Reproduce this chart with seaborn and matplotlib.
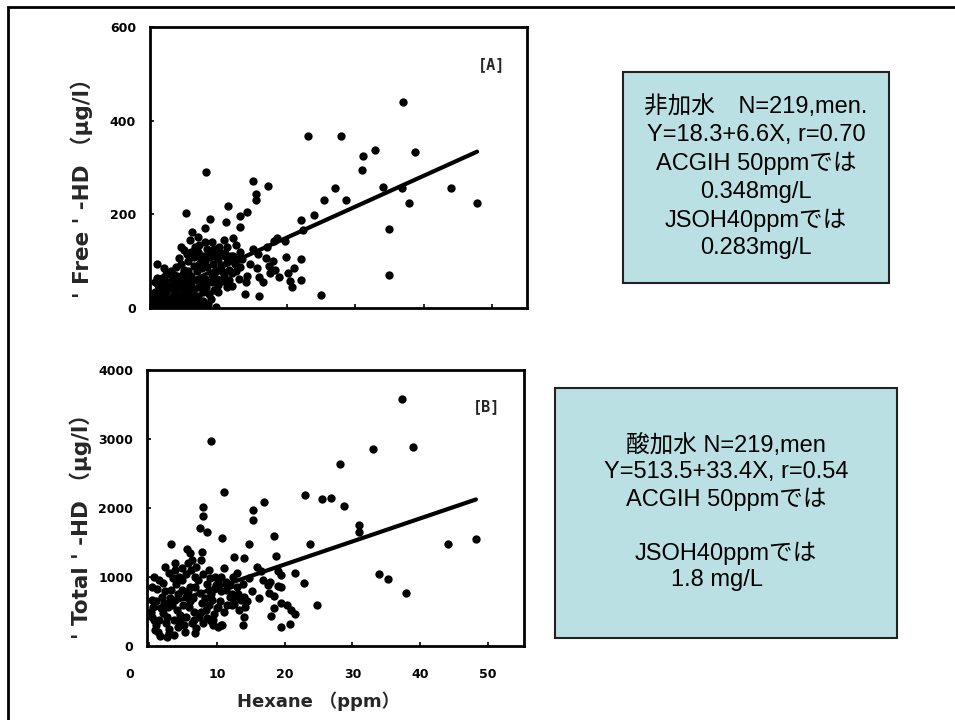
import numpy as np
import pandas as pd
import matplotlib
matplotlib.use("Agg")
import matplotlib.pyplot as plt
import matplotlib.transforms as mtransforms
from matplotlib.patches import Rectangle
import seaborn as sns

# ---------------- data ----------------
free_hexane = [
    37.0, 23.1, 27.9, 31.2, 32.9, 38.8, 31.0, 8.2, 15.1, 17.3, 15.5, 15.5, 27.1, 34.1, 36.8, 44.0,
    25.4, 28.7, 37.9, 47.8, 5.2, 14.2, 11.4, 13.1, 8.8, 22.1, 23.9, 11.1, 35.0, 13.1, 22.4, 6.2,
    7.0, 8.1, 12.2, 35.0, 25.0, 16.0, 13.9, 18.5, 18.1, 19.8, 19.9, 22.0, 18.0, 21.0, 22.0, 20.2,
    20.4, 20.8, 17.4, 17.6, 15.6, 16.0, 14.2, 15.1, 17.1, 13.1, 12.2, 13.2, 10.1, 11.3, 11.8, 13.0,
    12.0, 11.3, 16.9, 14.6, 18.3, 18.8, 5.9, 8.1, 5.4, 4.2, 1.05, 1.05, 1.1, 4.9,
    0.5, 1.0, 1.5, 2.0, 2.5, 3.0, 3.5, 4.2, 4.8, 5.3, 5.9, 6.4, 7.0, 7.5, 8.0, 8.5, 9.6,
    0.6, 1.0, 1.3, 1.8, 2.0, 2.4, 2.8, 3.0, 3.3, 3.7, 4.0, 4.3, 4.6, 5.0, 5.4, 5.8, 6.1, 6.5,
    7.0, 7.3, 7.8, 8.2, 8.6, 9.0, 9.4, 10.0,
    0.8, 1.5, 2.2, 2.6, 3.2, 3.6, 4.0, 4.4, 4.8, 5.2, 5.6, 6.0, 6.4, 6.8, 7.2, 7.6, 8.0, 8.4,
    8.8, 9.2, 9.6, 10.0, 10.4, 10.8, 11.2, 11.6, 12.0, 9.0, 8.0, 7.0, 6.0, 5.0, 9.8, 10.6, 12.4,
    12.8, 10.2, 9.4, 8.6, 7.8, 7.0, 6.4, 5.6, 4.6, 3.8, 3.0, 2.4, 1.8, 7.2, 6.6, 9.0, 11.0,
    0.3, 0.8, 1.2, 1.6, 2.2, 2.7, 3.1, 3.4, 3.9, 4.5, 4.9, 5.5, 5.8, 6.3, 6.7, 7.1, 7.7, 8.3,
    8.9, 9.3, 9.9, 10.5, 10.9, 11.5, 12.5, 13.5, 14.0, 9.5, 8.3, 7.4, 6.0, 5.0, 3.5, 2.0, 4.5,
    10.8, 12.6, 15.8, 16.5,
]
free_hd = [
    440, 367, 367, 325, 338, 333, 295, 291, 272, 260, 243, 230, 256, 259, 256, 256,
    231, 231, 224, 224, 203, 205, 218, 196, 191, 188, 199, 184, 169, 174, 167, 162,
    152, 171, 150, 70, 28, 25, 30, 150, 142, 142, 109, 105, 100, 85, 60, 75,
    58, 45, 90, 75, 85, 66, 69, 127, 130, 88, 110, 120, 131, 131, 112, 62,
    48, 45, 107, 95, 81, 67, 145, 140, 115, 106, 95, 64, 50, 124,
    8, 5, 10, 6, 12, 4, 9, 6, 5, 8, 5, 7, 4, 6, 3, 8, 2,
    22, 30, 40, 18, 28, 35, 20, 42, 25, 33, 18, 45, 28, 38, 22, 48, 30, 40,
    25, 52, 35, 44, 30, 55, 38, 50,
    55, 52, 58, 48, 62, 55, 68, 58, 72, 62, 80, 68, 90, 78, 95, 85, 100, 88,
    108, 95, 80, 105, 92, 70, 98, 82, 75, 70, 62, 60, 52, 50, 62, 58, 95,
    105, 120, 125, 118, 112, 120, 108, 100, 95, 88, 80, 72, 65, 135, 130, 140, 118,
    15, 35, 20, 45, 15, 40, 12, 50, 30, 15, 55, 35, 15, 60, 20, 45, 15, 55,
    20, 65, 35, 80, 110, 60, 80, 105, 55, 110, 125, 105, 120, 82, 70, 85, 130,
    145, 135, 115, 55,
]

total_hexane = [
    37.3, 9.2, 38.9, 33.1, 28.1, 11.1, 23.0, 25.5, 26.9, 28.8, 17.0, 15.4, 15.4, 7.9, 7.9, 7.5,
    8.6, 10.8, 18.5, 14.8, 23.8, 31.0, 31.0, 3.2, 5.6, 6.0, 7.8, 44.1, 48.2, 33.9, 35.2, 37.9,
    24.7, 18.7, 12.6, 14.0, 22.8, 21.5, 19.0, 19.5, 19.4, 20.8, 21.5, 20.3, 20.9, 19.5, 18.5, 18.0,
    19.0, 19.5, 17.7, 18.4, 17.5, 17.9, 13.9, 10.6, 9.5, 12.6, 13.3, 12.2, 12.6, 14.0, 11.3, 10.6,
    10.1, 9.6, 9.1,
    0.7, 1.4, 2.1, 2.9, 3.6, 7.6, 3.8, 4.8, 5.5, 6.2, 6.8, 8.8, 9.0, 11.0, 0.4, 0.6, 0.5, 0.9,
    1.9, 2.2, 2.0, 2.5, 2.9, 3.3, 3.8, 4.1, 3.7, 4.3, 4.8, 5.5, 5.9, 5.4, 6.3, 6.8, 7.5, 7.8,
    7.3, 8.0, 6.8, 8.8, 9.3, 10.0, 9.4, 10.2, 10.8, 10.2, 11.3, 12.0, 12.3, 11.1, 12.9, 13.5,
    14.2, 14.0, 1.6, 2.6, 3.7, 1.2, 1.5, 2.8, 3.1, 4.5, 5.0, 5.2, 6.0, 6.5, 6.6, 7.0, 8.4, 8.6,
    9.6, 10.4, 1.0, 0.5, 4.0, 5.8, 6.9, 9.8, 4.4, 2.4, 15.9, 16.5, 14.8, 12.9,
    0.3, 0.8, 1.1, 1.3, 1.7, 2.3, 2.7, 3.0, 3.4, 3.9, 4.2, 4.6, 4.9, 5.3, 5.7, 6.1, 6.4, 6.6,
    7.2, 7.6, 7.9, 8.2, 8.5, 8.9, 9.2, 9.9, 10.6, 11.5, 11.9, 12.4, 13.1, 13.8, 14.5, 15.2,
    16.2, 16.8,
]
total_hd = [
    3575, 2975, 2880, 2855, 2633, 2236, 2188, 2126, 2140, 2033, 2092, 1971, 1826, 2010, 1889, 1706,
    1657, 1570, 1594, 1478, 1473, 1754, 1657, 1473, 1401, 1343, 1367, 1478, 1551, 1039, 967, 763,
    594, 1304, 1295, 1271, 908, 1053, 1080, 1030, 280, 319, 459, 594, 522, 620, 550, 440,
    870, 860, 770, 720, 880, 930, 304, 300, 300, 614, 520, 760, 670, 710, 930, 792,
    560, 464, 367,
    1005, 957, 908, 1053, 980, 1250, 1198, 1126, 1050, 1100, 1000, 1102, 981, 1126, 667, 570, 425, 232,
    715, 619, 474, 329, 184, 812, 667, 522, 377, 280, 812, 715, 570, 425, 329, 860, 763, 619,
    425, 329, 184, 812, 667, 546, 377, 280, 305, 908, 812, 715, 594, 498, 860, 667,
    570, 425, 150, 135, 160, 820, 380, 560, 700, 450, 600, 300, 850, 700, 500, 260, 520, 900,
    820, 650, 300, 850, 900, 1200, 1150, 1000, 1000, 1150, 1150, 1090, 980, 1058,
    500, 380, 650, 200, 550, 800, 420, 250, 600, 1100, 750, 350, 950, 200, 800, 650, 1250, 380,
    950, 500, 1050, 700, 400, 600, 750, 880, 1000, 600, 880, 1000, 750, 900, 650, 800,
    700, 950,
]

free_fit = {"intercept": 18.3, "slope": 6.6}
total_fit = {"intercept": 513.5, "slope": 33.4}

x_ticks = [0, 10, 20, 30, 40, 50]
x_tick_labels = ["0", "10", "20", "30", "40", "50"]
free_y_ticks = [0, 200, 400, 600]
total_y_ticks = [0, 1000, 2000, 3000, 4000]

box_a_lines = ["非加水\u3000N=219,men.", "Y=18.3+6.6X, r=0.70", "ACGIH 50ppmでは",
               "0.348mg/L", "JSOH40ppmでは", "0.283mg/L"]
box_b_lines = ["酸加水 N=219,men", "Y=513.5+33.4X, r=0.54", "ACGIH 50ppmでは",
               "", "JSOH40ppmでは", "1.8 mg/L   "]

free_df = pd.DataFrame({"hexane": free_hexane, "hd": free_hd})
total_df = pd.DataFrame({"hexane": total_hexane, "hd": total_hd})

# ---------------- style ----------------
sns.set_theme(style="white")
plt.rcParams["font.family"] = ["DejaVu Sans", "Noto Sans CJK JP"]

W, H = 955, 720
fig = plt.figure(figsize=(W / 100, H / 100), dpi=100)
fig.patch.set_facecolor("white")


def ax_rect(l, t, r, b):
    return [l / W, 1 - b / H, (r - l) / W, (b - t) / H]


axA = fig.add_axes(ax_rect(150, 27, 527, 308))
axB = fig.add_axes(ax_rect(147, 370, 524, 646))


def draw_panel(ax, df, fit, xlim, ylim, yticks):
    sns.scatterplot(data=df, x="hexane", y="hd", color="black", s=36,
                    linewidth=0, edgecolor="black", ax=ax, legend=False)
    lx = np.array([df["hexane"].min(), df["hexane"].max()])
    ly = fit["intercept"] + fit["slope"] * lx
    sns.lineplot(x=lx, y=ly, color="black", linewidth=3, ax=ax)
    ax.set_xlim(*xlim)
    ax.set_ylim(*ylim)
    ax.set_yticks(yticks, labels=[str(v) for v in yticks], fontweight="bold")
    ax.tick_params(axis="both", direction="in", length=3, width=1.2,
                   colors="black", labelsize=9, left=True, bottom=True)
    ax.tick_params(axis="y", pad=10)
    for sp in ax.spines.values():
        sp.set_visible(True)
        sp.set_color("black")
        sp.set_linewidth(2)
    ax.set_facecolor("white")


draw_panel(axA, free_df, free_fit, (0, 55.1), (0, 600), free_y_ticks)
axA.set_xticks(x_ticks, labels=[""] * len(x_ticks))
axA.set_xlabel("")
axA.set_ylabel("' Free ' -HD （μg/l）", fontsize=15.5, fontweight="bold")
axA.yaxis.set_label_coords(-0.151, 0.445)
axA.text(0.907, 0.865, "[A]", transform=axA.transAxes, ha="center", va="center",
         fontsize=11, fontweight="bold", family="DejaVu Sans Mono")

draw_panel(axB, total_df, total_fit, (-0.3, 55.3), (0, 4000), total_y_ticks)
axB.set_xticks(x_ticks, labels=x_tick_labels, fontweight="bold")
axB.tick_params(axis="x", pad=16)
axB.set_xlabel("Hexane （ppm）", fontsize=13, fontweight="bold")
axB.xaxis.set_label_coords(0.454, -0.165)
axB.set_ylabel("' Total ' -HD （μg/l）", fontsize=15.5, fontweight="bold")
axB.yaxis.set_label_coords(-0.146, 0.453)
axB.text(0.902, 0.866, "[B]", transform=axB.transAxes, ha="center", va="center",
         fontsize=11, fontweight="bold", family="DejaVu Sans Mono")
first = axB.get_xticklabels()[0]
first.set_transform(first.get_transform() +
                    mtransforms.ScaledTranslation(-0.19, 0, fig.dpi_scale_trans))

# ---------------- slide frame and text boxes ----------------
fig.add_artist(Rectangle((8 / W, -0.05), 1.1, 1 - 7 / H + 0.05, transform=fig.transFigure,
                         fill=False, edgecolor="black", linewidth=2))

box_color = "#BBE0E3"


def text_box(l, t, r, b, lines, y_first, step):
    fig.add_artist(Rectangle((l / W, 1 - b / H), (r - l) / W, (b - t) / H,
                             transform=fig.transFigure, facecolor=box_color,
                             edgecolor="#222222", linewidth=1.5))
    cx = (l + r) / 2
    for i, line in enumerate(lines):
        if not line:
            continue
        fig.text(cx / W, 1 - (y_first + i * step) / H, line, ha="center", va="center",
                 fontsize=17, color="black",
                 family=["Liberation Sans", "Noto Sans CJK JP"])


text_box(623, 72, 889, 283, box_a_lines, 106.7, 28.3)
text_box(555, 388, 897, 638, box_b_lines, 445, 27)

fig.savefig("out.png", dpi=100, facecolor="white")
